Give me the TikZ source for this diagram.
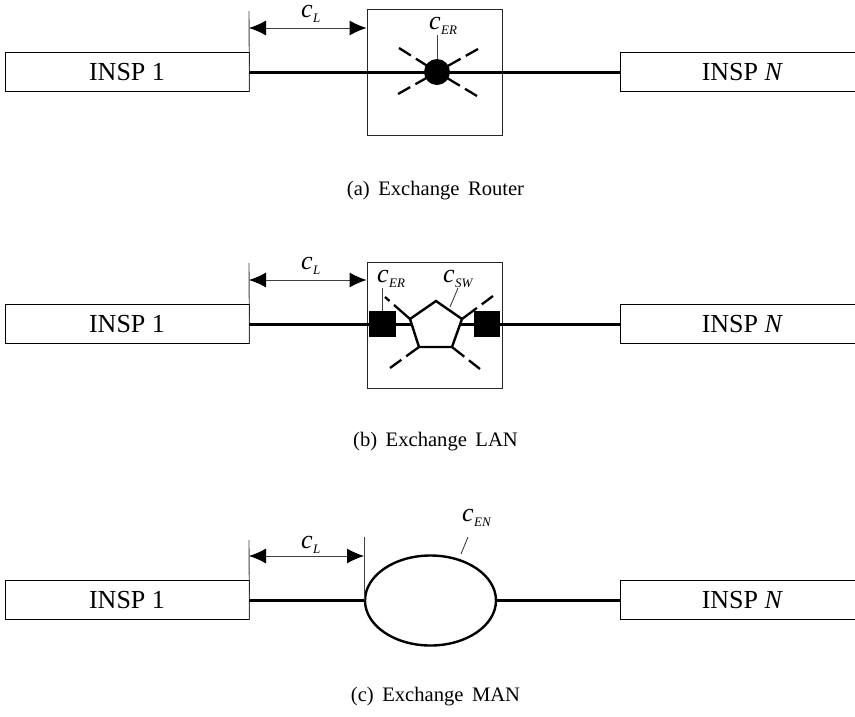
\documentclass[tikz,border=0pt]{standalone}
\usepackage{fontspec}
\setmainfont{Liberation Serif}
\usetikzlibrary{arrows.meta,shapes.geometric,calc}
\tikzset{
  insp/.style={draw,line width=.9pt,minimum height=39pt,inner sep=0pt,font=\fontsize{26}{28}\selectfont,anchor=center},
  wire/.style={line width=3pt},
  thin line/.style={line width=.9pt,color=black!75},
  dim/.style={line width=.9pt,color=black!75,{Latex[length=17pt,width=15pt,black]}-{Latex[length=17pt,width=15pt,black]}},
  spoke/.style={line width=2.3pt,dash pattern=on 14pt off 6pt on 100pt off 0pt},
  lbl/.style={inner sep=0pt,anchor=base west},
  caption/.style={inner sep=0pt},
  frame/.style={draw,line width=.9pt,color=black!85},
  sq/.style={fill=black,draw=none,minimum size=26.5pt,inner sep=0pt},
}
\newcommand{\clab}[1]{{\fontsize{26}{28}\selectfont\itshape c}\kern0.5pt\raisebox{-5pt}{\fontsize{13}{14}\selectfont\itshape #1}}
\newcommand{\captxt}[1]{{\fontsize{20.6}{22}\selectfont\spaceskip 8.5pt\relax #1}}
\begin{document}
\begin{tikzpicture}[x=1pt,y=-1pt]
\useasboundingbox (0,0) rectangle (855,716);
% ---- (a)
\node[insp,minimum width=244pt] (a1) at (127,72) {INSP 1};
\node[insp,minimum width=245pt] (aN) at (742.5,72) {INSP \textit{N}};
\node[frame,minimum width=135pt,minimum height=126pt] (abox) at (434.5,72) {};
\coordinate (atop) at (249,11);
\draw[thin line] (atop) -- (a1.south east);
\draw[wire] (a1.east) -- (aN.west);
\node[circle,fill=black,minimum size=26pt,inner sep=0pt] (acore) at (437,72) {};
\coordinate (as1) at (399,48);
\coordinate (as2) at (478,49);
\coordinate (as3) at (398,94);
\coordinate (as4) at (477,96);
\draw[spoke] (as1) -- (acore.center);
\draw[spoke] (as2) -- (acore.center);
\draw[spoke] (as3) -- (acore.center);
\draw[spoke] (as4) -- (acore.center);
\coordinate (aarrow) at (249,28);
\draw[dim] (aarrow) -- (aarrow -| abox.west);
\node[lbl] (acl) at (301,17) {\clab{L}};
\node[lbl] (acer) at (429,29) {\clab{ER}};
\coordinate (atick) at (437,35);
\draw[thin line] (atick) -- (acore.north);
\node[caption] (acap) at (435.5,190.5) {\captxt{(a) Exchange Router}};
% ---- (b)
\node[insp,minimum width=244pt] (b1) at (127,324) {INSP 1};
\node[insp,minimum width=245pt] (bN) at (742.5,324) {INSP \textit{N}};
\node[frame,minimum width=135pt,minimum height=126pt] (bbox) at (434.5,325) {};
\coordinate (btop) at (249,263);
\draw[thin line] (btop) -- (b1.south east);
\draw[wire] (b1.east) -- (bN.west);
\coordinate (p1) at (436,301);
\coordinate (p2) at (462,319);
\coordinate (p3) at (452,347);
\coordinate (p4) at (419,347);
\coordinate (p5) at (410,319);
\fill[white] (p1) -- (p2) -- (p3) -- (p4) -- (p5) -- cycle;
\draw[line join=miter,line width=2.4pt] (p1) -- (p2) -- (p3) -- (p4) -- (p5) -- cycle;
\coordinate (bs1) at (385,297);
\coordinate (bs2) at (493,296);
\coordinate (bs3) at (390,368);
\coordinate (bs4) at (480,369);
\draw[line width=2.3pt,dash pattern=on 6pt off 6pt on 100pt off 0pt] (bs1) -- (p5);
\draw[spoke] (bs2) -- (p2);
\draw[spoke] (bs3) -- (p4);
\draw[spoke] (bs4) -- (p3);
\node[sq] (bl) at (382.5,324) {};
\node[sq] (br) at (487,324) {};
\coordinate (barrow) at (249,280);
\draw[dim] (barrow) -- (barrow -| bbox.west);
\node[lbl] (bcl) at (301,269) {\clab{L}};
\node[lbl] (bcer) at (377,282) {\clab{ER}};
\node[lbl] (bcsw) at (443,282) {\clab{SW}};
\coordinate (bt1) at (382,288);
\coordinate (bt2) at (458,288);
\coordinate (bt3) at (450,307);
\draw[thin line] (bt1) -- (bl.north -| bt1);
\draw[thin line] (bt2) -- (bt3);
\node[caption] (bcap) at (435.5,441.5) {\captxt{(b) Exchange LAN}};
% ---- (c)
\node[insp,minimum width=244pt] (c1) at (127,600) {INSP 1};
\node[insp,minimum width=245pt] (cN) at (742.5,600) {INSP \textit{N}};
\node[ellipse,draw,line width=2.4pt,minimum width=131pt,minimum height=90pt,inner sep=0pt] (cell) at (430.5,600.5) {};
\coordinate (ctop) at (249,540);
\coordinate (ctop2) at (364,537);
\draw[thin line] (ctop) -- (c1.south east);
\draw[thin line] (ctop2) -- (ctop2 |- c1.east);
\draw[wire] (c1.east) -- (c1.east -| cell.west);
\draw[wire] (cN.west -| cell.east) -- (cN.west);
\coordinate (carrow) at (249,556);
\draw[dim] (carrow) -- (carrow -| ctop2);
\node[lbl] (ccl) at (301,548) {\clab{L}};
\node[lbl] (cen) at (462,521) {\clab{EN}};
\coordinate (ct1) at (468,537);
\coordinate (ct2) at (461,554);
\draw[thin line] (ct1) -- (ct2);
\node[caption] (ccap) at (435.5,696.5) {\captxt{(c) Exchange MAN}};
\end{tikzpicture}
\end{document}
